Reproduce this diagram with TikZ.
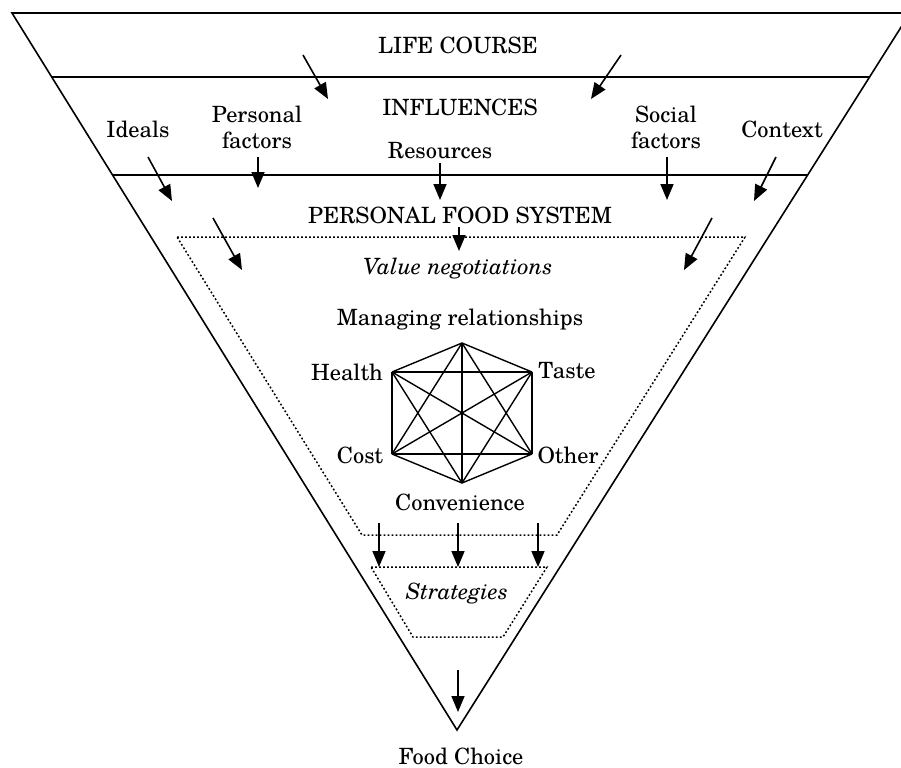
\documentclass[tikz,border=0pt]{standalone}
\usepackage{fontspec}
\setmainfont{texgyreschola}[Extension=.otf,UprightFont=*-regular,ItalicFont=*-italic,BoldFont=*-bold,BoldItalicFont=*-bolditalic]
\usetikzlibrary{arrows.meta}
\tikzset{
  rim/.style={line width=0.8pt},
  dots/.style={line width=0.75pt,dash pattern=on 0.9pt off 1.1pt},
  arr/.style={line width=0.8pt,-{Triangle[length=8pt,width=6.5pt]}},
  lbl/.style={inner sep=0pt,align=center,font=\fontsize{11.2}{13}\selectfont}
}
\begin{document}
\begin{tikzpicture}[x=0.5pt,y=-0.5pt]
\useasboundingbox (0,0) rectangle (901,767);
\clip (0,0) rectangle (901,767);
\coordinate (tl) at (12,13);
\coordinate (tr) at (910,13);
\coordinate (apex) at (457,730);
\draw [rim] (tl) -- (tr) -- (apex) -- cycle;
\draw [rim] (51.7,77) -- (869.6,77)
            (112.5,175) -- (807.6,175);
\draw [dots] (177,237) -- (745,237) -- (557,535) -- (362,535) -- cycle;
\draw [dots] (371,567) -- (547,567) -- (503,637) -- (413,637) -- cycle;
\node [lbl] (life) at (458,45) {LIFE COURSE};
\node [lbl] (infl) at (460,107) {INFLUENCES};
\node [lbl] (ideals) at (138,129) {Ideals};
\node [lbl] (persf) at (257,127) {Personal\\factors};
\node [lbl] (res) at (440,151) {Resources};
\node [lbl] (socf) at (666,127) {Social\\factors};
\node [lbl] (ctx) at (782,129) {Context};
\node [lbl] (pfs) at (460,215) {PERSONAL FOOD SYSTEM};
\node [lbl] (valneg) at (458,269) {\itshape Value negotiations};
\node [lbl] (manage) at (460,320) {Managing relationships};
\node [lbl] (strat) at (457,593) {\itshape Strategies};
\node [lbl] (choice) at (461,756) {Food Choice};
\foreach \v/\x/\y in {top/462/343,taste/532/372,other/532/454,bot/462/483,cost/392/454,health/392/372}
   \coordinate (\v) at (\x,\y);
\foreach \a [count=\i] in {top,taste,other,bot,cost,health}
   \foreach \b [count=\j] in {top,taste,other,bot,cost,health} {
      \ifnum\j>\i \draw [line width=0.7pt] (\a) -- (\b); \fi
   }
\node [lbl] (healthl) at (347,372) {Health};
\node [lbl] (tastel) at (567,371) {Taste};
\node [lbl] (costl) at (360,455) {Cost};
\node [lbl] (otherl) at (568,455) {Other};
\node [lbl] (convl) at (460,502) {Convenience};
\foreach \x/\y/\u/\w [count=\i] in {303/55/328/99,621/55/591/99,
     148/157/172/201,258/157/258/188,440/163/440/200,667/157/667/200,776/157/754/201,
     213/218/242/270,459/227/459/251,712/218/684/270,
     379/523/379/567,458/523/458/567,538/523/538/567,458/670/458/712} {
   \coordinate (s\i) at (\x,\y);
   \coordinate (e\i) at (\u,\w);
   \draw [arr] (s\i) -- (e\i);
}
\end{tikzpicture}
\end{document}
